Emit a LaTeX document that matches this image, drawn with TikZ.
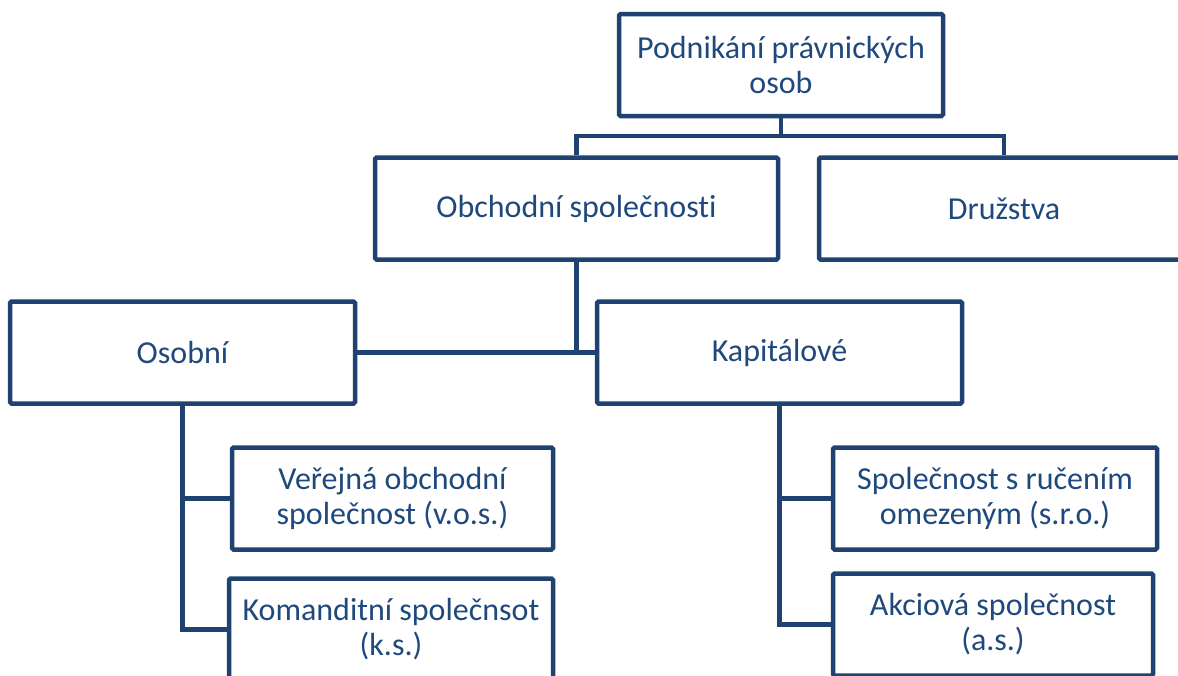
\documentclass[tikz,border=0pt]{standalone}
\usepackage{fontspec}
\setmainfont{Carlito}[Ligatures=NoCommon]
\usepackage{xcolor}
\definecolor{colorLine}{RGB}{31,66,113}
\definecolor{colorText}{RGB}{31,73,125}
\usepackage{tikz}
\usetikzlibrary{positioning}
\tikzset{orgbox/.style={draw=colorLine, line width=4.5pt, rounded corners=1.5pt, fill=white, text=colorText, align=center, minimum height=102pt, inner sep=0pt, font=\fontsize{32}{35}\selectfont}}

\begin{document}
\begin{tikzpicture}[x=1pt, y=-1pt, line width=4.5pt, colorLine]
\useasboundingbox (0,0) rectangle (1178,675);
% uroven 1 a 2
\node[orgbox, minimum width=324pt] (pravnicke) at (781,65) {Podnikání právnických\\osob};
\node[orgbox, minimum width=403pt] (obchodni) at (576.5,208.5) {Obchodní společnosti};
\node[orgbox, minimum width=370pt] (druzstva) at (1004,208.5) {Družstva};
% uroven 3
\node[orgbox, minimum width=345pt] (osobni) at (182.5,352.5) {Osobní};
\node[orgbox, minimum width=365pt] (kapitalove) at (779.5,352.5) {Kapitálové};
% uroven 4
\node[orgbox, minimum width=321pt] (vos) at (392.5,498.5) {Veřejná obchodní\\společnost (v.o.s.)};
\node[orgbox, minimum width=324pt] (ks) at (391,629.5) {Komanditní společnsot\\(k.s.)};
\node[orgbox, minimum width=324pt] (sro) at (995,498.5) {Společnost s ručením\\omezeným (s.r.o.)};
\node[orgbox, minimum width=320pt] (as) at (993,624.5) {Akciová společnost\\(a.s.)};
% spojnice
\coordinate (bus) at (781,136);
\draw (pravnicke.south) -- (bus);
\draw (obchodni.north) |- (bus) -| (druzstva.north);
\draw (obchodni.south) |- (osobni.east);
\draw (osobni.east) -- (kapitalove.west);
\draw (osobni.south) |- (vos.west);
\draw (osobni.south) |- (ks.west);
\draw (kapitalove.south) |- (sro.west);
\draw (kapitalove.south) |- (as.west);
\end{tikzpicture}
\end{document}
